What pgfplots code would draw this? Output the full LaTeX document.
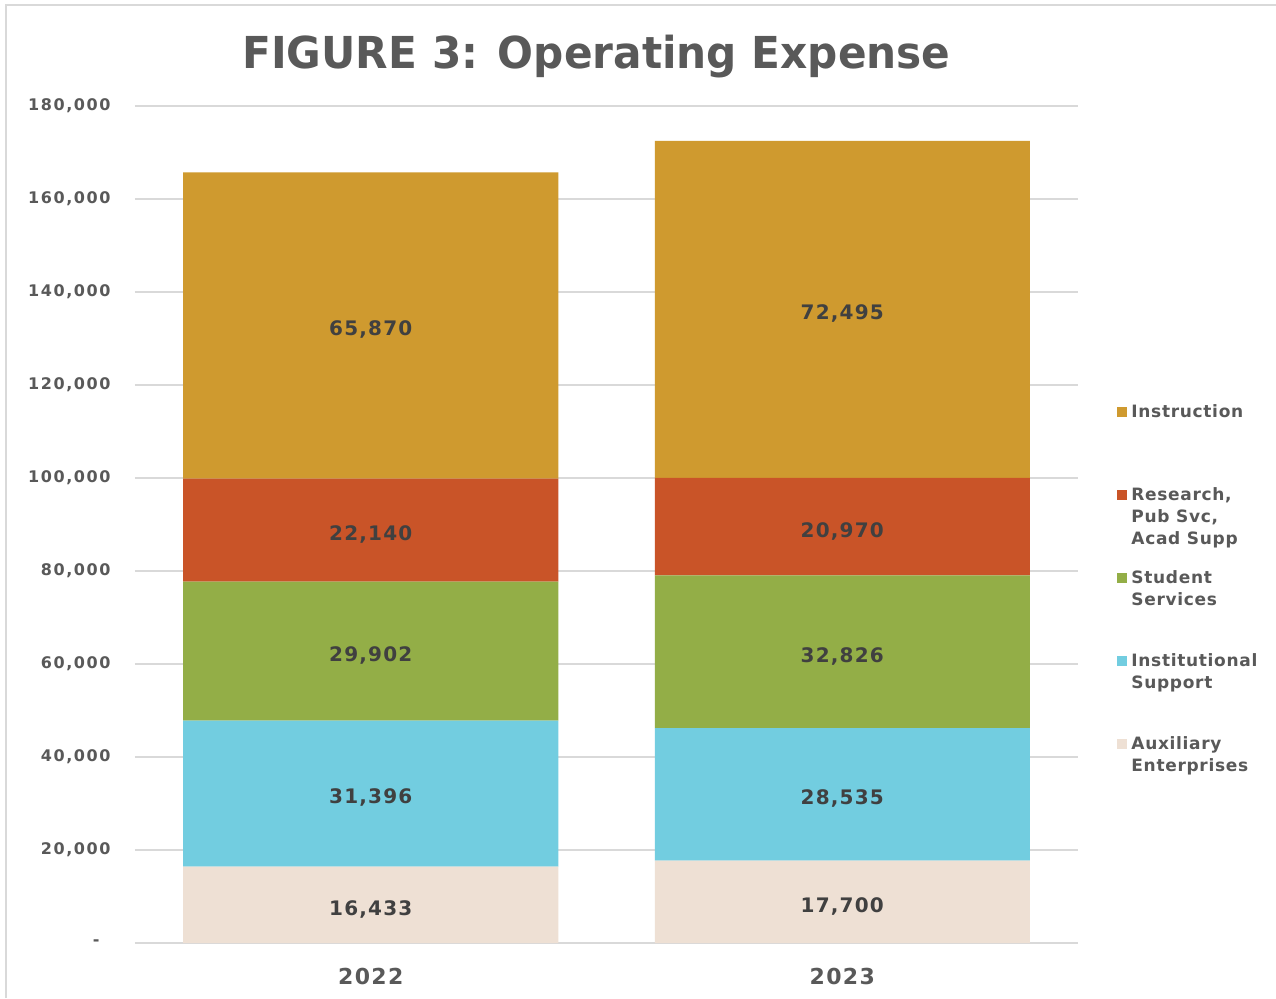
\documentclass[border=0pt]{standalone}
\usepackage{pgfplots}
\usepackage{pgfplotstable}
\pgfplotsset{compat=1.18}
\usepackage{fontspec}
\setmainfont{DejaVu Sans}
\newfontfamily\lblfont[LetterSpace=6]{DejaVu Sans}
\newfontfamily\tickfont[LetterSpace=10]{DejaVu Sans}
\newfontfamily\legfont[LetterSpace=4]{DejaVu Sans}
\newfontfamily\titlefont[FakeStretch=0.96]{DejaVu Sans}
\definecolor{cInstr}{HTML}{CF9A2F}
\definecolor{cRes}{HTML}{C95428}
\definecolor{cStud}{HTML}{93AE47}
\definecolor{cInst}{HTML}{72CDE0}
\definecolor{cAux}{HTML}{EEE0D4}
\definecolor{gridc}{HTML}{D9D9D9}
\definecolor{txt}{HTML}{595959}
\definecolor{lbl}{HTML}{404040}
\pgfplotstableread{
x aux inst stud res instr
0 16433 31396 29902 22140 65870
1 17700 28535 32826 20970 72495
}\data
\begin{document}
\begin{tikzpicture}
\useasboundingbox (-67.5pt,-27.5pt) rectangle (570.5pt,471.5pt);
\fill[white] (-67.5pt,-27.5pt) rectangle (570.5pt,471.5pt);
\draw[gridc, line width=1pt] (-64.5pt,-27.5pt) -- (-64.5pt,469pt) -- (570.5pt,469pt);
\begin{axis}[
  at={(0,0)}, anchor=south west,
  scale only axis, width=471.5pt, height=418.5pt,
  ybar stacked, bar width=187.5pt,
  xmin=-0.5, xmax=1.5, ymin=0, ymax=180000,
  xtick=data, xticklabels={2022,2023},
  scaled y ticks=false,
  ytick={0,20000,40000,60000,80000,100000,120000,140000,160000,180000},
  yticklabels={{-\hphantom{0}},{20,000},{40,000},{60,000},{80,000},{100,000},{120,000},{140,000},{160,000},{180,000}},
  axis line style={draw=none},
  tick style={draw=none}, major tick length=0pt,
  ymajorgrids, grid style={gridc, line width=0.9pt},
  yticklabel style={font=\tickfont\bfseries\fontsize{8}{9}\selectfont, text=txt, anchor=east, inner sep=0pt, xshift=-12pt},
  xticklabel style={font=\lblfont\bfseries\fontsize{11}{12}\selectfont, text=txt, anchor=base, inner sep=0pt, yshift=-20.5pt},
  title={\titlefont\bfseries\fontsize{22}{26}\selectfont FIGURE 3: Operating Expense},
  title style={at={(rel axis cs:0.5,1)}, anchor=base, yshift=12.5pt, xshift=-5pt, text=txt, inner sep=0pt},
  point meta=explicit,
  nodes near coords={\pgfmathprintnumber[fixed,precision=0,1000 sep={,},assume math mode=true]{\pgfplotspointmeta}},
  every node near coord/.append style={anchor=center, font=\lblfont\bfseries\fontsize{10}{12}\selectfont, text=lbl, yshift=-2.2pt},
  reverse legend,
  legend style={at={(rel axis cs:1.0414,0.644)}, anchor=north west, draw=none, fill=none, inner sep=0pt, row sep=0pt, column sep=2pt, nodes={inner sep=0pt, anchor=base west, text height=6.5pt, text depth=35pt, text=txt, font=\legfont\bfseries\fontsize{8.5}{11}\selectfont}},
  legend image code/.code={\fill[#1] (0pt,0pt) rectangle (5pt,5pt);},
]
\addplot[fill=cAux, draw=none] table[x=x, y=aux, meta=aux] {\data};
\addlegendentry{\parbox[t]{75pt}{Auxiliary\\Enterprises}}
\addplot[fill=cInst, draw=none] table[x=x, y=inst, meta=inst] {\data};
\addlegendentry{\parbox[t]{75pt}{Institutional\\Support}}
\addplot[fill=cStud, draw=none] table[x=x, y=stud, meta=stud] {\data};
\addlegendentry{\parbox[t]{75pt}{Student\\Services}}
\addplot[fill=cRes, draw=none] table[x=x, y=res, meta=res] {\data};
\addlegendentry{\parbox[t]{75pt}{Research,\\Pub Svc,\\Acad Supp}}
\addplot[fill=cInstr, draw=none] table[x=x, y=instr, meta=instr] {\data};
\addlegendentry{\parbox[t]{75pt}{Instruction}}
\end{axis}
\end{tikzpicture}
\end{document}
